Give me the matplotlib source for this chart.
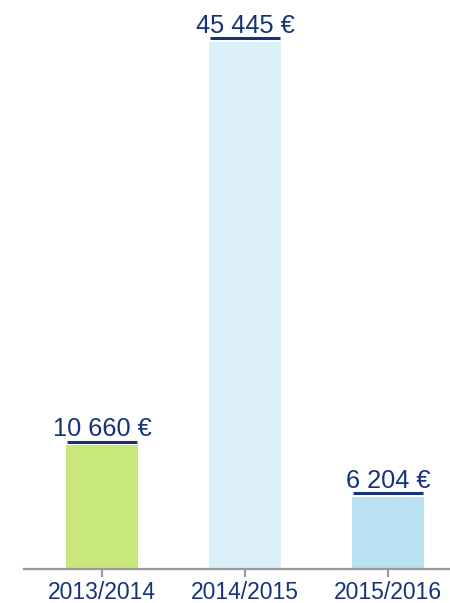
import matplotlib
matplotlib.use("Agg")
from matplotlib import pyplot as plt
from matplotlib import transforms

# chart data
seasons = ["2013/2014", "2014/2015", "2015/2016"]
amounts = [10660, 45445, 6204]
labels = ["10 660 €", "45 445 €", "6 204 €"]
bar_colors = ["#c9e87c", "#dbeff8", "#b8e2f2"]

navy = "#16337a"
grey = "#9a9a9a"

plt.rcParams['font.family'] = ['Liberation Sans', 'DejaVu Sans']

fig = plt.figure(figsize=(4.5, 6.03), dpi=100)
ax = fig.add_axes([24 / 450, 34 / 603, 426 / 450, 527 / 603])

x = range(len(seasons))
ax.bar(x, amounts, width=0.5, color=bar_colors, zorder=2)

ax.set_xlim(-0.545, 2.434)
ax.set_ylim(0, max(amounts))

# value labels with underline above each bar
line_tr = transforms.offset_copy(ax.transData, fig=fig, x=0, y=2.6, units='points')
for i, (v, lab) in enumerate(zip(amounts, labels)):
    ax.plot([i - 0.245, i + 0.245], [v, v], color=navy, lw=2.2,
            transform=line_tr, clip_on=False, solid_capstyle='butt')
    ax.annotate(lab, (i, v), xytext=(0, 6.5), textcoords='offset points',
                ha='center', va='baseline', fontsize=18.3, color=navy,
                annotation_clip=False)

for s in ['top', 'right', 'left']:
    ax.spines[s].set_visible(False)
ax.spines['bottom'].set_color(grey)
ax.spines['bottom'].set_linewidth(1.6)

ax.set_yticks([])
ax.set_xticks(list(x))
ax.set_xticklabels(seasons, fontsize=16.5, color=navy)
ax.tick_params(axis='x', direction='inout', length=11, width=1.6, color=grey, pad=3)

plt.savefig("out.png", dpi=100)
